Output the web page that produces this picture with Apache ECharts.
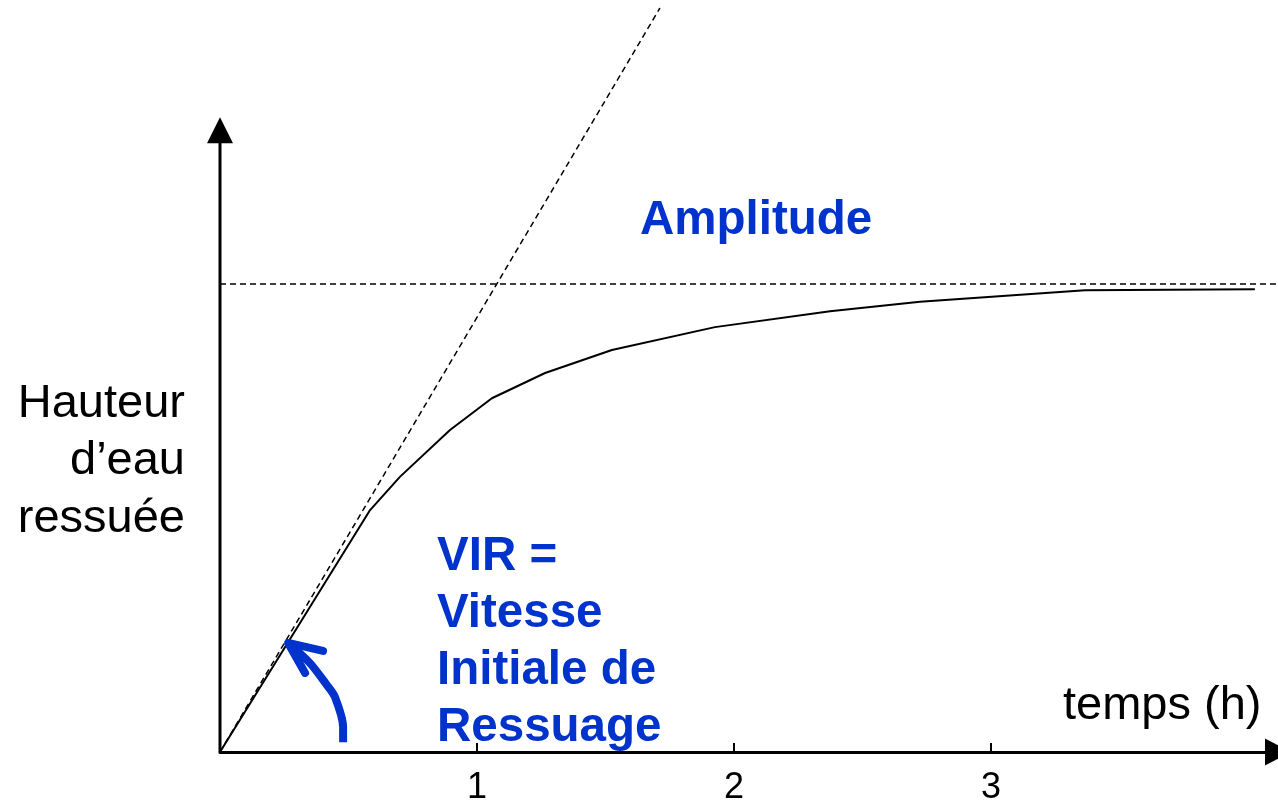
<!DOCTYPE html>
<html>
<head>
<meta charset="utf-8">
<script src="https://cdn.jsdelivr.net/npm/echarts@6/dist/echarts.min.js"></script>
<style>
  html, body { margin: 0; padding: 0; background: #fff; }
  #chart { width: 1278px; height: 801px; }
</style>
</head>
<body>
<div id="chart"></div>
<script>
(function() {
  // courbe de ressuyage (temps en h, hauteur relative a l'amplitude)
  var temps = [0, 0.584, 0.700, 0.895, 1.058, 1.265, 1.525, 1.926, 2.374, 2.724, 3.366, 4.027];
  var hauteur = [0, 0.517, 0.588, 0.688, 0.756, 0.810, 0.859, 0.908, 0.942, 0.962, 0.987, 0.989];
  // tangente a l'origine (VIR) et amplitude
  var tangenteX = [0, 1.712];
  var tangenteY = [0, 1.590];
  var amplitudeX = [0, 4.117];
  var amplitudeY = [1, 1];
  var ticks = [1, 2, 3];
  // fleche bleue
  var flecheX = [0.479, 0.479, 0.447, 0.416, 0.350, 0.265];
  var flecheY = [0.021, 0.053, 0.118, 0.143, 0.190, 0.233];
  var pointeX = [0.401, 0.265, 0.331];
  var pointeY = [0.216, 0.233, 0.169];

  function pairs(xs, ys) {
    return xs.map(function(x, i) { return [x, ys[i]]; });
  }

  var bleu = '#0033cc';
  var police = '"Liberation Sans", Arial, sans-serif';

  var myChart = echarts.init(document.getElementById('chart'));
  var option = {
    backgroundColor: '#fff',
    animation: false,
    grid: { left: 220, right: 0, top: 8, bottom: 49, containLabel: false, outerBoundsMode: 'none' },
    xAxis: {
      type: 'value',
      min: 0,
      max: 4.117,
      interval: 1,
      splitLine: { show: false },
      axisLine: {
        lineStyle: { color: '#000', width: 3 },
        symbol: ['none', 'triangle'],
        symbolSize: [27, 26]
      },
      axisTick: { inside: true, length: 9, lineStyle: { color: '#000', width: 2 }, customValues: ticks },
      axisLabel: { customValues: ticks, color: '#000', fontSize: 36, fontFamily: police, margin: 18 }
    },
    yAxis: {
      type: 'value',
      min: 0,
      max: 1.59,
      show: false
    },
    series: [
      {
        name: 'axe',
        type: 'line',
        silent: true,
        lineStyle: { color: '#000', width: 3 },
        itemStyle: { color: '#000' },
        data: [
          { value: [0, 0], symbol: 'none' },
          { value: [0, 1.329], symbol: 'triangle', symbolSize: [26, 26] }
        ]
      },
      {
        name: 'tangente',
        type: 'line',
        symbol: 'none',
        lineStyle: { color: '#000', width: 1.5, type: [6, 4] },
        data: pairs(tangenteX, tangenteY)
      },
      {
        name: 'amplitude',
        type: 'line',
        symbol: 'none',
        lineStyle: { color: '#000', width: 1.5, type: [6, 4] },
        data: pairs(amplitudeX, amplitudeY)
      },
      {
        name: 'ressuyage',
        type: 'line',
        symbol: 'none',
        lineStyle: { color: '#000', width: 2 },
        data: pairs(temps, hauteur)
      },
      {
        name: 'fleche',
        type: 'line',
        symbol: 'none',
        smooth: 0.3,
        lineStyle: { color: bleu, width: 8, join: 'round' },
        data: pairs(flecheX, flecheY)
      },
      {
        name: 'pointe',
        type: 'line',
        symbol: 'none',
        lineStyle: { color: bleu, width: 8, cap: 'round', join: 'round' },
        data: pairs(pointeX, pointeY)
      }
    ],
    graphic: [
      {
        type: 'text', x: 185, y: 375,
        style: { text: 'Hauteur\nd’eau\nressuée', font: '47px ' + police, fill: '#000',
          align: 'right', verticalAlign: 'top', lineHeight: 57.5 }
      },
      {
        type: 'text', x: 640, y: 193,
        style: { text: 'Amplitude', font: 'bold 47.5px ' + police, fill: bleu, verticalAlign: 'top', lineHeight: 56 }
      },
      {
        type: 'text', x: 437, y: 528,
        style: { text: 'VIR =\nVitesse\nInitiale de\nRessuage', font: 'bold 47.5px ' + police, fill: bleu,
          verticalAlign: 'top', lineHeight: 57 }
      },
      {
        type: 'text', x: 1063, y: 678,
        style: { text: 'temps (h)', font: '47px ' + police, fill: '#000', verticalAlign: 'top', lineHeight: 56 }
      }
    ]
  };
  myChart.setOption(option);
  window.addEventListener('resize', function() {
    myChart.resize();
  });
})();
</script>
</body>
</html>
